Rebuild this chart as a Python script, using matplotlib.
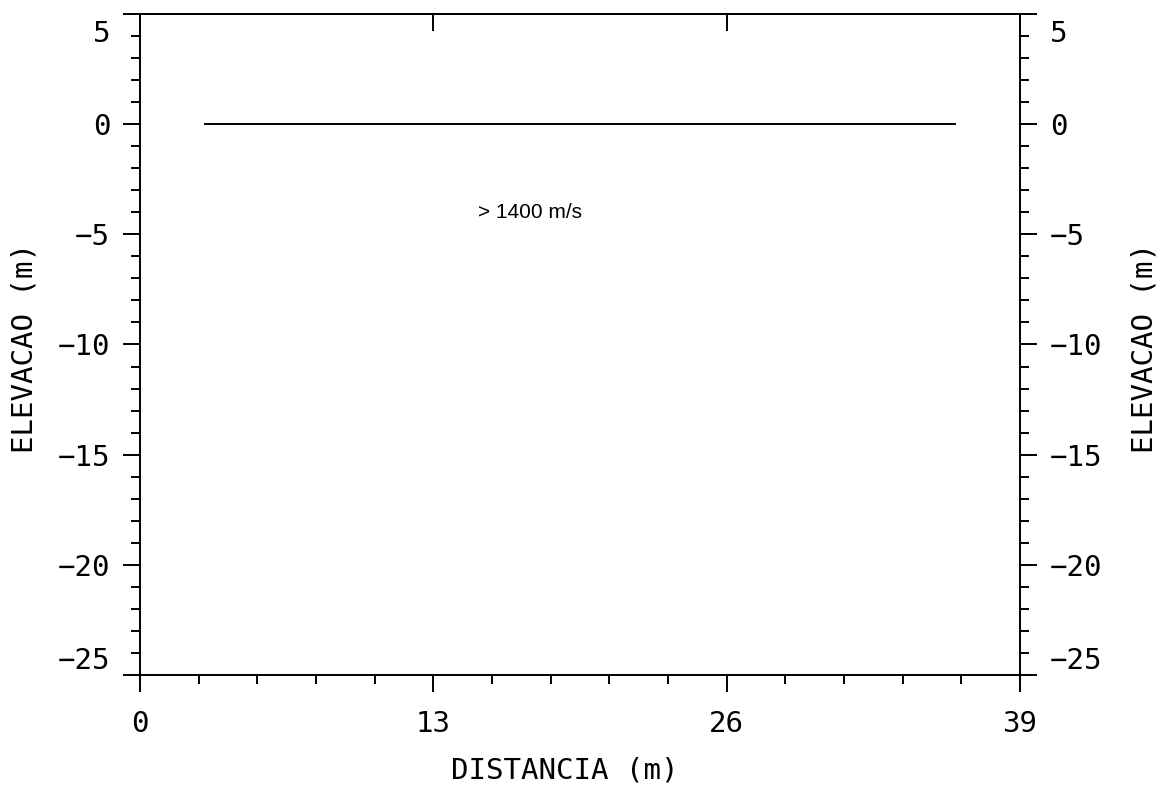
import matplotlib
matplotlib.use("Agg")
import matplotlib.pyplot as plt
from matplotlib.ticker import MultipleLocator, FixedLocator
from matplotlib.transforms import ScaledTranslation

# data
layer_x = [2.9, 36.1]
layer_y = [0.0, 0.0]
velocity_label = "> 1400 m/s"
velocity_pos = (15.0, -4.0)
x_ticks = [0, 13, 26, 39]
y_ticks = [-25, -20, -15, -10, -5, 0, 5]
x_title = "DISTANCIA (m)"
y_title = "ELEVACAO (m)"

mono = "DejaVu Sans Mono"
fs = 21
lw = 1.4

fig = plt.figure(figsize=(11.6, 7.85), dpi=100)
ax = fig.add_axes([140/1160, 1 - 675/785, 880/1160, 661/785])
ax.plot(layer_x, layer_y, color="black", lw=lw)
ax.text(velocity_pos[0], velocity_pos[1], velocity_label, family="Liberation Sans",
        fontsize=15, va="center", ha="left")

ax.set_xlim(0, 39)
ax.set_ylim(-25, 5)
for s in ax.spines.values():
    s.set_linewidth(lw)

ax.xaxis.set_major_locator(FixedLocator(x_ticks))
ax.xaxis.set_minor_locator(MultipleLocator(2.6))
ax.yaxis.set_major_locator(FixedLocator(y_ticks))
ax.yaxis.set_minor_locator(MultipleLocator(1))
ax.set_xticklabels([str(t) for t in x_ticks])
ax.set_yticklabels([str(t).replace("-", "\u2212") for t in y_ticks])

ax.tick_params(axis="both", which="major", direction="out", length=12.5, width=lw,
               labelsize=fs, colors="black")
ax.tick_params(axis="both", which="minor", direction="out", length=6.5, width=lw)
ax.tick_params(axis="y", which="both", left=True, right=True, labelleft=True, labelright=True, pad=9)
ax.tick_params(axis="x", which="major", pad=13)
for lab in ax.get_xticklabels() + ax.get_yticklabels():
    lab.set_family(mono)

# shift end labels inwards like the reference
down = ScaledTranslation(0, -6 / 100, fig.dpi_scale_trans)
ticks = ax.yaxis.get_major_ticks()
for t in ticks:
    if t.get_loc() == 5:
        for lab in (t.label1, t.label2):
            lab.set_va("top")
            lab.set_transform(lab.get_transform() + down)
    if t.get_loc() == -25:
        t.label1.set_va("bottom"); t.label2.set_va("bottom")

# top inward major ticks
top = ax.secondary_xaxis("top")
top.xaxis.set_major_locator(FixedLocator(x_ticks))
top.tick_params(axis="x", which="major", direction="in", length=12.5, width=lw, labeltop=False)
top.tick_params(axis="x", which="minor", top=False)
top.spines["top"].set_linewidth(lw)

ax.set_xlabel(x_title, family=mono, fontsize=fs)
ax.xaxis.set_label_coords((565 - 140) / 880, (675 - 771) / 661)
ax.xaxis.label.set_va("center")

ax.set_ylabel(y_title, family=mono, fontsize=fs)
ax.yaxis.set_label_coords((24 - 140) / 880, (675 - 348) / 661)
ax.yaxis.label.set_va("center")

ax.text((1144 - 140) / 880, (675 - 348) / 661, y_title, transform=ax.transAxes,
        rotation=90, family=mono, fontsize=fs, ha="center", va="center")

fig.savefig("out.png", dpi=100)
